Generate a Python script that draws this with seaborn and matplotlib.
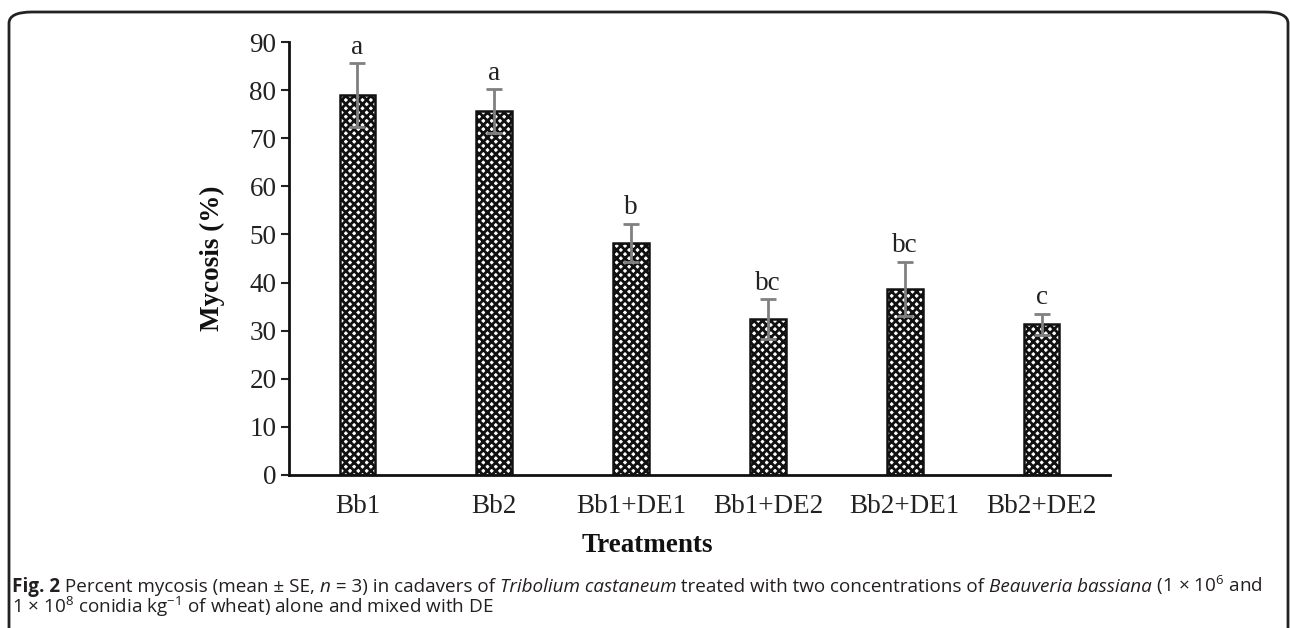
import numpy as np
import matplotlib
matplotlib.use("Agg")
import matplotlib.pyplot as plt
import seaborn as sns
from matplotlib.patches import FancyBboxPatch

# Data
treatments = ["Bb1", "Bb2", "Bb1+DE1", "Bb1+DE2", "Bb2+DE1", "Bb2+DE2"]
mycosis = [79.0, 75.6, 48.2, 32.4, 38.7, 31.3]
se = [6.6, 4.6, 4.0, 4.1, 5.6, 2.2]
letters = ["a", "a", "b", "bc", "bc", "c"]

sns.set_style("ticks")
plt.rcParams["font.family"] = ["Liberation Serif", "DejaVu Serif"]
plt.rcParams["hatch.linewidth"] = 2.0
plt.rcParams["mathtext.fontset"] = "custom"
plt.rcParams["mathtext.rm"] = "Open Sans"
plt.rcParams["mathtext.it"] = "Open Sans:italic"

W, H = 1290, 628
fig = plt.figure(figsize=(W / 100, H / 100), dpi=100)
ax = fig.add_axes([289 / W, 1 - 475 / H, (1110 - 289) / W, (475 - 42) / H])

sns.barplot(x=treatments, y=mycosis, color="white", saturation=1, width=0.26,
            edgecolor="#111111", linewidth=1.8, hatch="xxxx", errorbar=None, ax=ax)
ax.errorbar(np.arange(len(treatments)), mycosis, yerr=se, fmt="none",
            ecolor="#808080", elinewidth=2, capsize=6, capthick=2)

for i, (m, s, l) in enumerate(zip(mycosis, se, letters)):
    ax.text(i, m + s + 2.0, l, ha="center", va="baseline", fontsize=19.5, color="#222222")

ax.set_ylim(0, 90)
ax.set_xlim(-0.5, 5.5)
ax.set_yticks(range(0, 91, 10))
ax.tick_params(axis="y", labelsize=19.5, length=6, width=1.5, colors="#222222", pad=3)
ax.tick_params(axis="x", labelsize=19.5, length=0, colors="#222222", pad=14)
for sp in ["top", "right"]:
    ax.spines[sp].set_visible(False)
for sp in ["left", "bottom"]:
    ax.spines[sp].set_linewidth(2)
    ax.spines[sp].set_color("#111111")

ax.set_ylabel("Mycosis (%)", fontsize=19.5, fontweight="bold", color="#111111")
ax.set_xlabel("Treatments", fontsize=19.5, fontweight="bold", color="#111111")
ax.yaxis.set_label_coords((212 - 289) / (1110 - 289), 0.5)
ax.xaxis.set_label_coords((647 - 289) / (1110 - 289), -(546 - 475) / (475 - 42))
ax.xaxis.label.set_va("center")
ax.yaxis.label.set_va("center")

# rounded frame round the figure
frame = FancyBboxPatch((9 / W, -0.1), (1288 - 9) / W, 1 - 12 / H + 0.1,
                       boxstyle="round,pad=0,rounding_size=0.018",
                       transform=fig.transFigure, fill=False, lw=2, ec="#222222")
fig.patches.append(frame)

# caption with mixed styles
cap_font = ["Open Sans", "DejaVu Sans"]
fig.canvas.draw()
renderer = fig.canvas.get_renderer()


def write_line(pieces, x0, y0, size):
    x = x0
    made = []
    for txt, style, weight in pieces:
        t = fig.text(x, y0, txt, fontsize=size, family=cap_font, style=style,
                     fontweight=weight, color="#231f20", va="baseline", ha="left")
        bb = t.get_window_extent(renderer)
        x += bb.width / fig.bbox.width
        made.append(t)
    return made, (x - x0) * W


line1 = [("Fig. 2", "normal", "bold"),
         (" Percent mycosis (mean ± SE, ", "normal", "normal"),
         ("n", "italic", "normal"),
         (" = 3) in cadavers of ", "normal", "normal"),
         ("Tribolium castaneum", "italic", "normal"),
         (" treated with two concentrations of ", "normal", "normal"),
         ("Beauveria bassiana", "italic", "normal"),
         (" (1 × 10$^{6}$ and", "normal", "normal")]
line2 = [("1 × 10$^{8}$ conidia kg$^{-1}$ of wheat) alone and mixed with DE", "normal", "normal")]

made, width = write_line(line1, 12 / W, 1 - 592 / H, 14)
for t in made:
    t.remove()
size = 14 * (1265 - 12) / width
write_line(line1, 12 / W, 1 - 592 / H, size)
write_line(line2, 12 / W, 1 - 613 / H, size)

fig.savefig("out.png", dpi=100)
